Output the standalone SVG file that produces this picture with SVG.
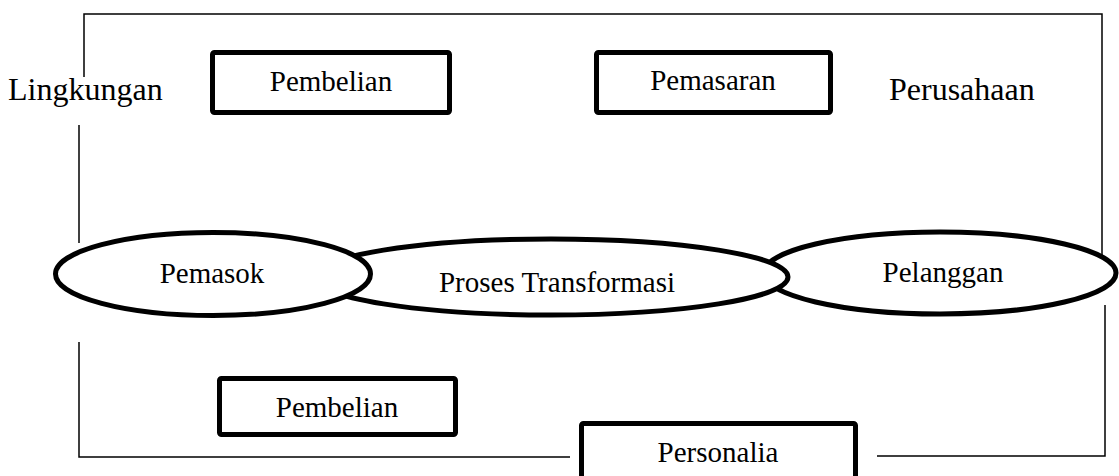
<svg xmlns="http://www.w3.org/2000/svg" width="1119" height="476" viewBox="0 0 1119 476">
<style>
.frame{stroke:#000;stroke-width:1.5;fill:none}
.box{fill:#fff;stroke:#000;stroke-width:5;stroke-linejoin:round}
.ell{fill:#fff;stroke:#000;stroke-width:5}
text{font-family:"Liberation Serif","Times New Roman",serif;fill:#000;font-size:29px}
.c{text-anchor:middle}
.big{font-size:32px}
</style>
<rect width="1119" height="476" fill="#fff"/>
<g id="connectors">
<path class="frame" d="M84,77 V14 H1102 V263"/>
<path class="frame" d="M79,125 V243"/>
<path class="frame" d="M79,342 V457 H570"/>
<path class="frame" d="M877,456 H1105 V305"/>
</g>
<g id="lingkungan"><text class="big" x="8" y="100">Lingkungan</text></g>
<g id="perusahaan"><text class="big" x="889" y="100">Perusahaan</text></g>
<g id="pembelian-top"><rect class="box" x="212.5" y="52.5" width="237" height="60" rx="2"/><text class="c" x="331" y="91">Pembelian</text></g>
<g id="pemasaran"><rect class="box" x="596.5" y="52.5" width="234" height="60" rx="2"/><text class="c" x="713" y="90">Pemasaran</text></g>
<g id="pelanggan"><ellipse class="ell" cx="940" cy="273" rx="176" ry="41"/><text class="c" x="943" y="282">Pelanggan</text></g>
<g id="proses"><ellipse class="ell" cx="551" cy="277" rx="237" ry="38"/><text class="c" x="557" y="292">Proses Transformasi</text></g>
<g id="pemasok"><ellipse class="ell" cx="213" cy="274" rx="157.5" ry="41.5"/><text class="c" x="212" y="283">Pemasok</text></g>
<g id="pembelian-bottom"><rect class="box" x="219.5" y="378.5" width="236" height="56" rx="2"/><text class="c" x="337" y="417">Pembelian</text></g>
<g id="personalia"><rect class="box" x="581.5" y="423.5" width="274" height="80" rx="2"/><text class="c" x="718" y="462">Personalia</text></g>
</svg>
